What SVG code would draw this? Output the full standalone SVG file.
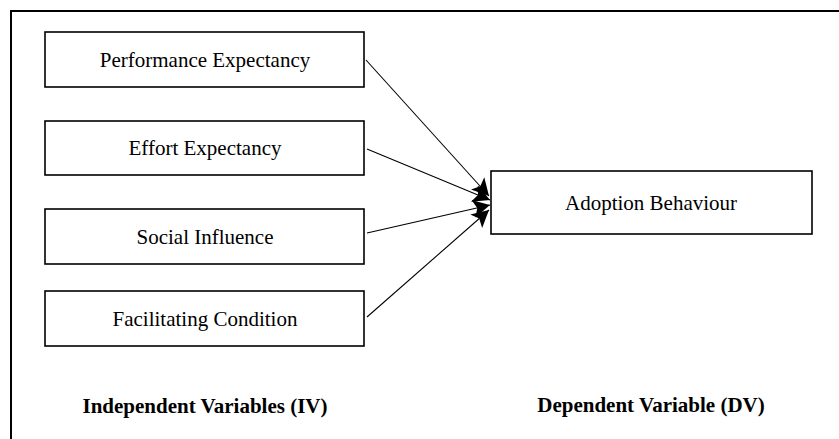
<svg xmlns="http://www.w3.org/2000/svg" width="839" height="439" viewBox="0 0 839 439">
<style>
.box{fill:#fff;stroke:#000;stroke-width:1.6}
.t{font-family:"Liberation Serif","Times New Roman",serif;font-size:21px;fill:#000;text-anchor:middle}
.b{font-weight:bold}
.c{stroke:#000;stroke-width:1.1;fill:none;marker-end:url(#ah)}
</style>
<defs>
<marker id="ah" markerUnits="userSpaceOnUse" markerWidth="20" markerHeight="20" refX="17" refY="10" orient="auto">
<path d="M0,1 L17,10 L0,19 L4,10 Z" fill="#000"/>
</marker>
</defs>
<rect width="839" height="439" fill="#fff"/>
<path d="M11,439 V11 H839" fill="none" stroke="#000" stroke-width="2"/>
<g id="n1"><rect class="box" x="45" y="32" width="319" height="55"/><text class="t" x="205" y="67">Performance Expectancy</text></g>
<g id="n2"><rect class="box" x="45" y="121" width="319" height="54"/><text class="t" x="205" y="155">Effort Expectancy</text></g>
<g id="n3"><rect class="box" x="45" y="209" width="319" height="55"/><text class="t" x="205" y="244">Social Influence</text></g>
<g id="n4"><rect class="box" x="45" y="291" width="319" height="55"/><text class="t" x="205" y="326">Facilitating Condition</text></g>
<g id="n5"><rect class="box" x="491" y="171" width="321" height="63"/><text class="t" x="651" y="210">Adoption Behaviour</text></g>
<g id="connectors">
<line class="c" x1="366" y1="60" x2="489" y2="196"/>
<line class="c" x1="367" y1="149" x2="490" y2="200"/>
<line class="c" x1="367" y1="233" x2="490" y2="205"/>
<line class="c" x1="367" y1="317" x2="489" y2="210"/>
</g>
<text class="t b" x="205" y="413">Independent Variables (IV)</text>
<text class="t b" x="651" y="412">Dependent Variable (DV)</text>
</svg>
